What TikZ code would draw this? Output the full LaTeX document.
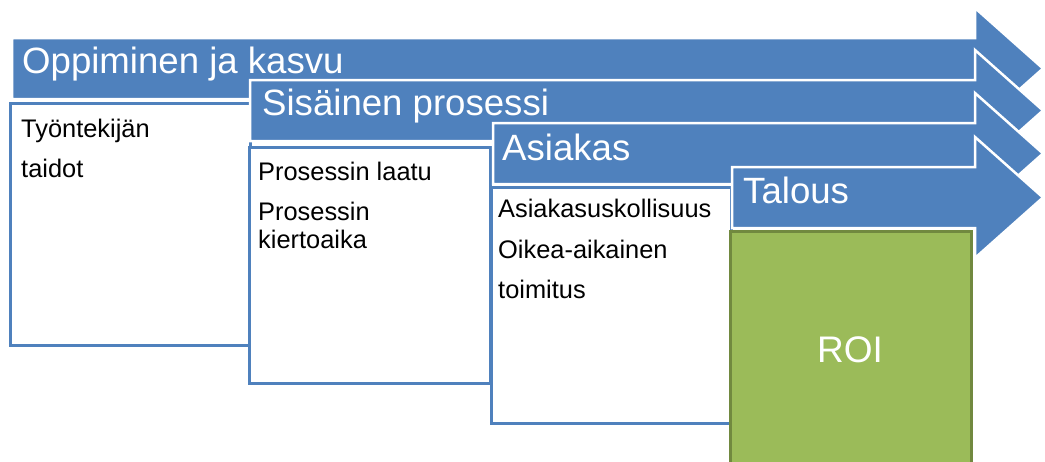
\documentclass[tikz,border=0pt]{standalone}
\usepackage{fontspec}
\setmainfont{Liberation Sans}
\definecolor{bandblue}{HTML}{4F81BD}
\definecolor{roigreen}{HTML}{9BBB59}
\definecolor{roiedge}{HTML}{71893F}

\begin{document}
\begin{tikzpicture}[x=1pt,y=-1pt,
  band/.style={fill=bandblue,draw=white,line width=2.5pt},
  card/.style={fill=white,draw=bandblue,line width=3pt},
  head/.style={anchor=base west,inner sep=0pt,text=white,font=\fontsize{36.6}{44}\selectfont},
  item/.style={anchor=base west,inner sep=0pt,font=\fontsize{25.4}{30}\selectfont}]
  \useasboundingbox (0,0) rectangle (1045,461);
  \clip (0,0) rectangle (1045,461);
  % Oppiminen ja kasvu
  \path[band] (12,38) -- (975,38) -- (975,8) -- (1043,68.5) -- (975,129) -- (975,99) -- (12,99) -- cycle;
  \draw[card] (10,103) rectangle (250,345);
  % Sisainen prosessi
  \path[band] (250,80) -- (975,80) -- (975,50) -- (1043,110.5) -- (975,171) -- (975,141) -- (250,141) -- cycle;
  \draw[card] (249,147) rectangle (490,383);
  % Asiakas
  \path[band] (493,123) -- (975,123) -- (975,93) -- (1043,153.5) -- (975,214) -- (975,184) -- (493,184) -- cycle;
  \draw[card] (491,187) rectangle (731,423);
  % Talous
  \path[band] (732,167) -- (975,167) -- (975,137) -- (1043,197.5) -- (975,258) -- (975,228) -- (732,228) -- cycle;
  \draw[fill=roigreen,draw=roiedge,line width=3pt] (730,231) rectangle (971,480);

  \node[head] (oppiminen) at (22,73) {Oppiminen ja kasvu};
  \node[head] (sisainen) at (262,115) {Sisäinen prosessi};
  \node[head] (asiakas) at (502,160) {Asiakas};
  \node[head] (talous) at (743,203) {Talous};

  \node[item] (tyo) at (21,137) {Työntekijän};
  \node[item] (taidot) at (21,177) {taidot};
  \node[item] (laatu) at (258,180) {Prosessin laatu};
  \node[item] (prosessin) at (258,220) {Prosessin};
  \node[item] (kierto) at (258,248) {kiertoaika};
  \node[item] (uskollisuus) at (498,217) {Asiakasuskollisuus};
  \node[item] (oikea) at (498,258) {Oikea-aikainen};
  \node[item] (toimitus) at (498,298) {toimitus};
  \node[text=white,font=\fontsize{37}{44}\selectfont,anchor=base] (roi) at (850,362) {ROI};
\end{tikzpicture}
\end{document}
